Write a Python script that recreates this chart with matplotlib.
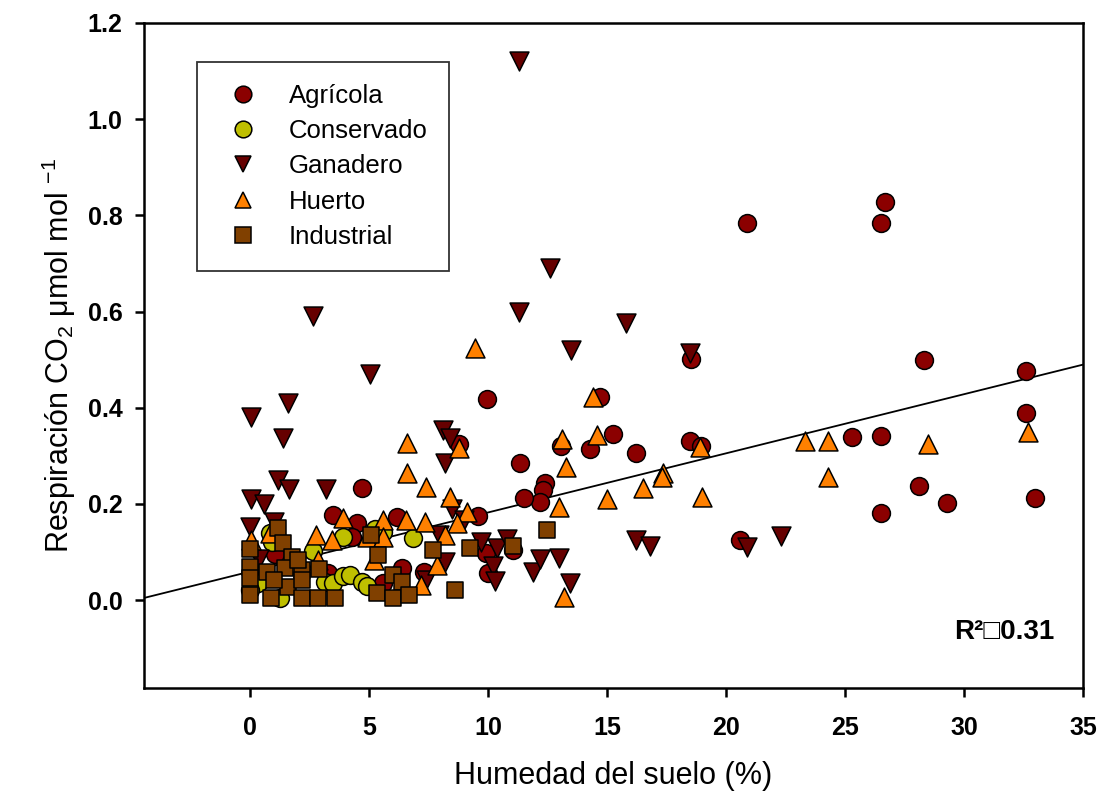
import matplotlib
matplotlib.use("Agg")
import matplotlib.pyplot as plt
from matplotlib.lines import Line2D
import numpy as np

plt.rcParams['font.family'] = ['Liberation Sans', 'DejaVu Sans']
plt.rcParams['mathtext.fontset'] = 'custom'
plt.rcParams['mathtext.rm'] = 'Liberation Sans'
plt.rcParams['mathtext.it'] = 'Liberation Sans:italic'
plt.rcParams['mathtext.bf'] = 'Liberation Sans:bold'

# ---------------- data ----------------
categories = ["Agrícola", "Conservado", "Ganadero", "Huerto", "Industrial"]

agricola_x = [26.7, 26.5, 20.9, 18.55, 28.3, 32.6, 32.6, 33.0, 29.3, 28.1, 26.5, 26.5, 25.3, 20.6,
              14.7, 13.05, 15.25, 14.3, 16.2, 18.5, 18.95, 12.4, 12.3, 12.2, 11.5, 11.35, 9.95, 8.8,
              4.7, 9.6, 6.2, 4.5, 3.5, 4.3, 1.05, 3.3, 6.4, 7.3, 5.6, 9.9, 10.0, 11.05]
agricola_y = [0.827, 0.785, 0.785, 0.502, 0.50, 0.477, 0.388, 0.213, 0.202, 0.238, 0.18, 0.342, 0.34, 0.125,
              0.423, 0.32, 0.346, 0.315, 0.305, 0.33, 0.32, 0.243, 0.229, 0.204, 0.212, 0.285, 0.417, 0.325,
              0.233, 0.175, 0.173, 0.16, 0.177, 0.131, 0.096, 0.057, 0.067, 0.058, 0.035, 0.098, 0.056, 0.104]

conservado_x = [0.1, 0.35, 0.85, 1.26, 2.65, 3.15, 3.5, 3.9, 3.9, 4.2, 4.7, 4.9, 5.25, 5.6, 6.85, 0.92, 0.0]
conservado_y = [0.044, 0.035, 0.139, 0.004, 0.102, 0.038, 0.035, 0.131, 0.05, 0.052, 0.038, 0.029, 0.148, 0.142, 0.129, 0.121, 0.02]

ganadero_x = [11.3, 12.6, 11.3, 2.65, 15.8, 13.5, 18.5, 5.04, 1.6, 0.04, 1.4, 8.1, 8.4, 8.2, 1.2, 1.65, 3.2,
              0.05, 0.6, 0.0, 1.0, 0.4, 8.5, 9.0, 7.95, 8.2, 7.4, 9.7, 10.4, 10.8, 10.2, 10.3, 11.9, 12.2,
              13.0, 13.45, 16.2, 16.8, 20.9, 22.3]
ganadero_y = [1.12, 0.69, 0.60, 0.59, 0.577, 0.52, 0.514, 0.47, 0.41, 0.38, 0.337, 0.354, 0.337, 0.285, 0.25, 0.23, 0.23,
              0.21, 0.2, 0.152, 0.163, 0.085, 0.19, 0.167, 0.135, 0.08, 0.042, 0.12, 0.108, 0.127, 0.07, 0.04, 0.058, 0.085,
              0.087, 0.035, 0.125, 0.113, 0.11, 0.133]

huerto_x = [9.45, 14.4, 14.6, 13.1, 6.6, 8.8, 18.9, 13.3, 6.6, 17.35, 17.3, 7.4, 16.5, 8.4, 15.0, 19.0, 13.0,
            9.1, 8.7, 7.35, 6.55, 5.6, 3.9, 8.2, 7.85, 7.2, 13.2, 24.3, 23.3, 24.3, 28.5, 32.7, 0.85, 2.77,
            3.45, 4.9, 5.6, 2.85, 5.2, 0.05]
huerto_y = [0.525, 0.423, 0.344, 0.335, 0.327, 0.317, 0.318, 0.277, 0.264, 0.264, 0.256, 0.235, 0.233, 0.215, 0.21, 0.215, 0.194,
            0.183, 0.161, 0.163, 0.167, 0.167, 0.171, 0.135, 0.073, 0.031, 0.006, 0.33, 0.33, 0.256, 0.325, 0.35, 0.14, 0.135,
            0.125, 0.13, 0.13, 0.083, 0.083, 0.125]

industrial_x = [12.5, 9.25, 11.05, 7.7, 8.6, 1.2, 1.4, 0.0, 1.75, 0.0, 0.7, 1.47, 2.2, 2.9, 0.0, 1.6, 0.0, 0.9,
                2.2, 2.85, 3.57, 5.1, 5.4, 6.0, 6.4, 5.35, 6.0, 6.7, 2.0, 2.2, 1.0]
industrial_y = [0.146, 0.108, 0.113, 0.104, 0.021, 0.15, 0.118, 0.106, 0.09, 0.069, 0.059, 0.066, 0.063, 0.064, 0.045, 0.028, 0.01, 0.004,
                0.004, 0.004, 0.004, 0.135, 0.094, 0.052, 0.038, 0.014, 0.004, 0.01, 0.083, 0.042, 0.042]

# regression line
reg_intercept = 0.059
reg_slope = 0.0123
r2_label = "R²\u25a10.31"

x_ticks = [0, 5, 10, 15, 20, 25, 30, 35]
y_ticks = [0.0, 0.2, 0.4, 0.6, 0.8, 1.0, 1.2]

# ---------------- style ----------------
colors = ["#8B0000", "#BFBF00", "#660000", "#FF8000", "#804000"]
markers = ["o", "o", "v", "^", "s"]
sizes = [165, 165, 185, 185, 145]

series = [(agricola_x, agricola_y), (conservado_x, conservado_y), (ganadero_x, ganadero_y),
          (huerto_x, huerto_y), (industrial_x, industrial_y)]

W, H = 1102, 797
L, R, T, B = 144, 1083, 23, 688
fig = plt.figure(figsize=(W / 100, H / 100), dpi=100)
ax = fig.add_axes([L / W, 1 - B / H, (R - L) / W, (B - T) / H])

xmin, xmax = -4.45, 35
ax.set_xlim(xmin, xmax)
ax.set_ylim(-0.183, 1.2)

xx = np.array([xmin, xmax])
ax.plot(xx, reg_intercept + reg_slope * xx, color="black", lw=1.3, zorder=2)

for i, (name, (xs, ys)) in enumerate(zip(categories, series)):
    ax.scatter(xs, ys, s=sizes[i], marker=markers[i], c=colors[i], edgecolors="black",
               linewidths=1.1, zorder=3 + i, label=name)

ax.set_xticks(x_ticks)
ax.set_xticklabels([str(t) for t in x_ticks])
ax.set_yticks(y_ticks)
ax.set_yticklabels([f"{t:.1f}" for t in y_ticks])
ax.tick_params(axis="both", direction="out", length=6.5, width=1.8, labelsize=18)
ax.tick_params(axis="x", pad=14)
ax.tick_params(axis="y", pad=9)
for lab in ax.get_xticklabels() + ax.get_yticklabels():
    lab.set_fontweight("bold")
for sp in ax.spines.values():
    sp.set_linewidth(1.8)

ax.set_xlabel("Humedad del suelo (%)", fontsize=22, labelpad=15)
ax.set_ylabel("Respiración CO$_2$ μmol mol $^{-1}$", fontsize=22, labelpad=7)

handles = [Line2D([], [], marker=markers[i], linestyle="none", markerfacecolor=colors[i],
                  markeredgecolor="black", markeredgewidth=1.1, markersize=12 if markers[i] != "s" else 11)
           for i in range(len(categories))]
leg = ax.legend(handles, categories, loc="upper left",
                bbox_to_anchor=((197 - L) / (R - L), (B - 62) / (B - T)),
                frameon=True, fancybox=False, edgecolor="black", fontsize=18.5,
                handletextpad=0.84, labelspacing=0.44, borderpad=0.85, borderaxespad=0,
                handlelength=1.87)
leg.get_frame().set_linewidth(1.3)
leg.set_zorder(20)

ax.text((1054 - L) / (R - L), (B - 632) / (B - T), r2_label, transform=ax.transAxes,
        ha="right", va="center", fontsize=20, fontweight="bold",
        family=["Liberation Sans", "DejaVu Sans"])

fig.savefig("out.png", dpi=100)
